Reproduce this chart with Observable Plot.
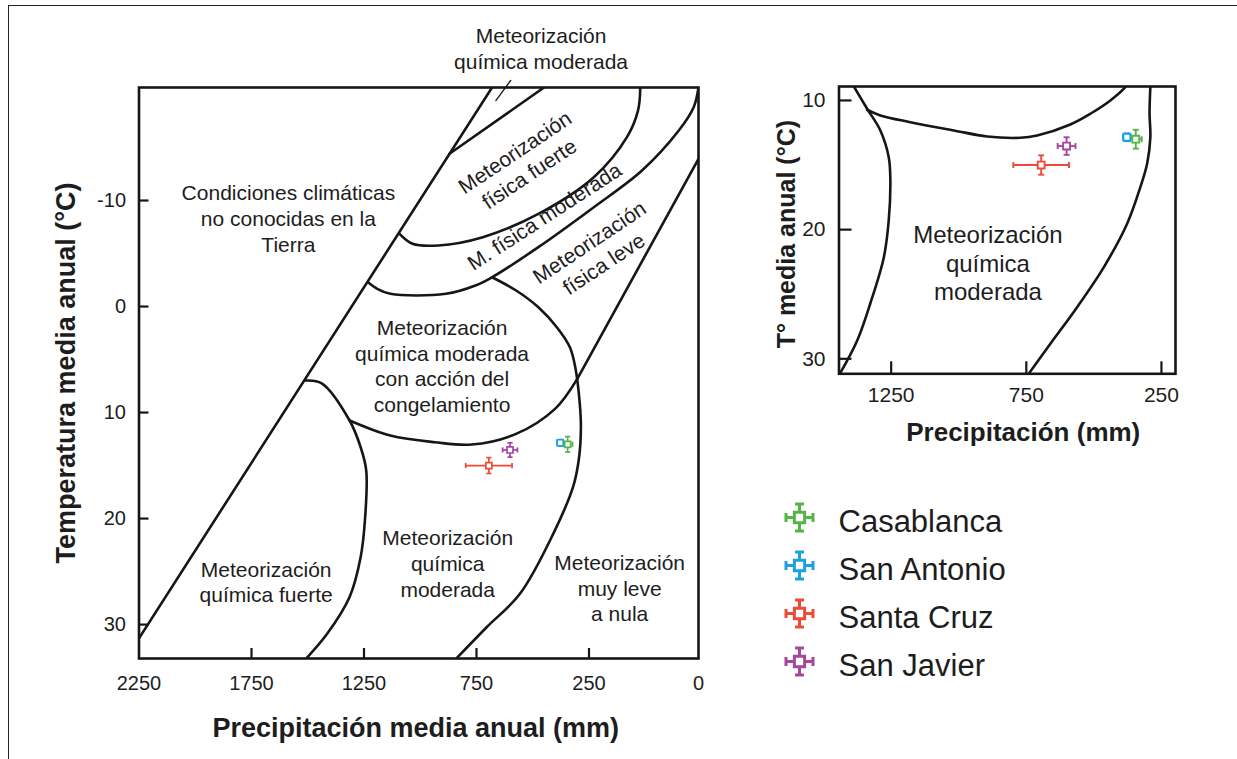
<!DOCTYPE html>
<html><head><meta charset="utf-8">
<script src="https://cdn.jsdelivr.net/npm/d3@7"></script>
<script src="https://cdn.jsdelivr.net/npm/@observablehq/plot@0.6"></script>
<style>
body{margin:0;background:#fff;width:1237px;height:759px;overflow:hidden;position:relative;font-family:"Liberation Sans",Arial,sans-serif}
#main,#inset,#legend{position:absolute}
#main{left:0;top:0}
#inset{left:730px;top:0}
#legend{left:730px;top:470px}
#border{position:absolute;left:8px;top:5px;width:1240px;height:770px;border-left:1.5px solid #222;border-top:1.5px solid #222}
svg{overflow:visible}
</style></head><body>
<div id="border"></div>
<div id="main"></div><div id="inset"></div><div id="legend"></div>
<script>
// ---- observations (precipitation mm, temperature °C) ----
const sites = ["Casablanca", "San Antonio", "Santa Cruz", "San Javier"];
const precipitation = [345, 378, 695, 601];
const precipitationError = [22, 14, 103, 33];
const temperature = [13.0, 12.85, 15.0, 13.53];
const temperatureError = [0.73, 0.3, 0.75, 0.68];
const siteColors = ["#55b448", "#1d9fe0", "#ee4a38", "#a4479d"];

// ---- tick labels ----
const xTicksMain = [2250, 1750, 1250, 750, 250, 0];
const yTicksMain = [-10, 0, 10, 20, 30];
const xTicksInset = [1250, 750, 250];
const yTicksInset = [10, 20, 30];

// ---- Peltier diagram boundaries, main chart [precipitation, temperature] ----
const limitKnownClimates = [[2250, 31.3], [681, -20.66]];
const sliverBoundary = [[870, -14.41], [450, -20.66]];
const strongPhysicalLower = [[1092,-6.86],[1034,-5.92],[919,-5.76],[722,-6.54],[475,-8.74],[239,-12.2],[163,-16.0],[138,-18.5],[133,-20.66]];
const moderatePhysicalLower = [[1232,-2.29],[1191,-1.67],[1133,-1.2],[886,-1.2],[755,-1.98],[681,-2.76],[475,-5.6],[239,-9.37],[129,-12.83],[45,-16.6],[11,-18.8],[0,-20.66]];
const slightPhysicalOuter = [[0,-13.93],[302,6.82]];
const frostLower = [[302,6.82],[401,9.65],[574,12.01],[771,13.02],[936,12.8],[1133,12.17],[1314,10.75]];
const strongChemicalBoundary = [[1512,6.98],[1438,7.24],[1314,10.75],[1265,13.27],[1240,15.47],[1246,20.2],[1265,23.65],[1314,27.4],[1413,30.85],[1504,33.14]];
const slightChemicalBoundary = [[681,-2.76],[574,-1.51],[475,0.07],[393,1.95],[335,3.84],[311,5.73],[291,9.15],[286,11.39],[294,14.22],[319,16.89],[409,21.44],[557,27.1],[705,30.25],[837,33.14]];
const pointerLine = [[664,-19.43],[598,-21.32]];

// ---- inset boundaries ----
const insetStrongChemical = [[1388,8.92],[1339,10.64],[1290,12.32],[1259,14.39],[1253,16.19],[1259,19.29],[1277,22.13],[1327,25.7],[1376,28.6],[1440,31.16]];
const insetFrostLower = [[1339,10.72],[1290,11.16],[1179,11.68],[1018,12.32],[895,12.79],[772,12.89],[710,12.71],[587,11.86],[513,11.03],[439,10.0],[389,9.09],[383,8.92]];
const insetSlightChemical = [[291,8.92],[294,11.03],[291,12.84],[303,14.9],[328,16.71],[377,19.54],[463,22.9],[562,26.0],[661,28.83],[741,31.15]];

// ---- region labels ----
const mainRegionLabels = [
  {text: "Condiciones climáticas\nno conocidas en la\nTierra", P: 1586, T: -8.37, angle: 0},
  {text: "Meteorización\nfísica fuerte", P: 550, T: -13.61, angle: -33.8},
  {text: "M. física moderada", P: 450, T: -8.58, angle: -33},
  {text: "Meteorización\nfísica leve", P: 234, T: -5.12, angle: -33.7},
  {text: "Meteorización\nquímica moderada\ncon acción del\ncongelamiento", P: 903, T: 5.54, angle: 0},
  {text: "Meteorización\nquímica fuerte", P: 1685, T: 25.92, angle: 0},
  {text: "Meteorización\nquímica\nmoderada", P: 878, T: 24.18, angle: 0},
  {text: "Meteorización\nmuy leve\na nula", P: 180, T: 26.48, angle: 0},
  {text: "Meteorización\nquímica moderada", P: 463, T: -24.39, angle: 0}
];
const insetRegionLabels = [
  {text: "Meteorización\nquímica\nmoderada", P: 892, T: 22.54}
];

// ---- helpers ----
const obs = sites.map((s, i) => ({site: s, P: precipitation[i], eP: precipitationError[i], T: temperature[i], eT: temperatureError[i]}));
const drawOrder = [obs[1], obs[0], obs[2], obs[3]];
const rad = size => Math.sqrt(size / Math.PI);
const vCap = {draw(c, size) { const r = rad(size); c.moveTo(0, -r); c.lineTo(0, r); }};
const hCap = {draw(c, size) { const r = rad(size); c.moveTo(-r, 0); c.lineTo(r, 0); }};
const legendSymbol = {draw(c, size) {
  const r = rad(size), s = r * 0.38, k = r * 0.33;
  c.moveTo(-s, -s); c.lineTo(s, -s); c.lineTo(s, s); c.lineTo(-s, s); c.closePath();
  c.moveTo(s, 0); c.lineTo(r, 0); c.moveTo(-s, 0); c.lineTo(-r, 0);
  c.moveTo(0, s); c.lineTo(0, r); c.moveTo(0, -s); c.lineTo(0, -r);
  c.moveTo(r, -k); c.lineTo(r, k); c.moveTo(-r, -k); c.lineTo(-r, k);
  c.moveTo(-k, r); c.lineTo(k, r); c.moveTo(-k, -r); c.lineTo(k, -r);
}};
const ink = "#161616";
const font = "'Liberation Sans', Arial, Helvetica, sans-serif";

function curve(arr, smooth = true) {
  return Plot.line(arr, {x: d => d[0], y: d => d[1], stroke: ink, strokeWidth: 2.6, curve: smooth ? "catmull-rom" : "linear", clip: true});
}
function siteMarks(sq, cap, sw) {
  const o = {stroke: "site", strokeWidth: sw};
  return [
    Plot.link(drawOrder, {x1: d => d.P - d.eP, x2: d => d.P + d.eP, y1: "T", y2: "T", ...o}),
    Plot.link(drawOrder, {x1: "P", x2: "P", y1: d => d.T - d.eT, y2: d => d.T + d.eT, ...o}),
    Plot.dot(drawOrder, {x: d => d.P - d.eP, y: "T", symbol: vCap, r: cap, fill: "none", ...o}),
    Plot.dot(drawOrder, {x: d => d.P + d.eP, y: "T", symbol: vCap, r: cap, fill: "none", ...o}),
    Plot.dot(drawOrder, {x: "P", y: d => d.T - d.eT, symbol: hCap, r: cap, fill: "none", ...o}),
    Plot.dot(drawOrder, {x: "P", y: d => d.T + d.eT, symbol: hCap, r: cap, fill: "none", ...o}),
    Plot.dot(drawOrder, {x: "P", y: "T", symbol: "square", r: sq, fill: "white", ...o})
  ];
}

// ---- main Peltier chart ----
const mainW = 730, mainH = 759, mL = 138.5, mR = 32, mT = 87, mB = 101;
const main = Plot.plot({
  width: mainW, height: mainH,
  marginLeft: mL, marginRight: mR, marginTop: mT, marginBottom: mB,
  x: {type: "linear", domain: [2250, 250, 0], range: [138.5, 588.5, 698], axis: null},
  y: {type: "linear", domain: [-20.66, 33.2], range: [87, 658], axis: null},
  color: {domain: sites, range: siteColors},
  style: {fontFamily: font, color: "#1d1d1d", background: "transparent"},
  marks: [
    curve(limitKnownClimates, false),
    curve(sliverBoundary, false),
    curve(strongPhysicalLower),
    curve(moderatePhysicalLower),
    curve(slightPhysicalOuter, false),
    curve(frostLower),
    curve(strongChemicalBoundary),
    curve(slightChemicalBoundary),
    Plot.line(pointerLine, {x: d => d[0], y: d => d[1], stroke: ink, strokeWidth: 1.3}),
    Plot.ruleX(xTicksMain.slice(1, -1), {x: d => d, insetTop: (mainH - mT - mB) - 10, stroke: ink, strokeWidth: 2.2}),
    Plot.ruleY(yTicksMain, {y: d => d, insetRight: (mainW - mL - mR) - 10, stroke: ink, strokeWidth: 2.2}),
    Plot.frame({stroke: ink, strokeWidth: 2.6}),
    Plot.text(xTicksMain, {x: d => d, text: d => String(d), frameAnchor: "bottom", dy: 25, lineAnchor: "middle", fontSize: 20, fill: "#1d1d1d"}),
    Plot.text(yTicksMain, {y: d => d, text: d => String(d), frameAnchor: "left", dx: -13, textAnchor: "end", lineAnchor: "middle", fontSize: 20, fill: "#1d1d1d"}),
    Plot.text(mainRegionLabels, {x: "P", y: "T", text: "text", rotate: "angle", fontSize: 21, lineHeight: 1.23, lineAnchor: "middle", textAnchor: "middle", fill: "#1d1d1d"}),
    Plot.text(["Temperatura media anual (°C)"], {text: d => d, frameAnchor: "left", dx: -73, rotate: -90, textAnchor: "middle", lineAnchor: "middle", fontSize: 27, fontWeight: "bold", fill: "#1d1d1d"}),
    Plot.text(["Precipitación media anual (mm)"], {text: d => d, frameAnchor: "bottom", dx: -3, dy: 70, textAnchor: "middle", lineAnchor: "middle", fontSize: 27, fontWeight: "bold", fill: "#1d1d1d"}),
    ...siteMarks(3.4, 2.6, 1.7)
  ]
});
document.getElementById("main").append(main);

// ---- inset chart ----
const iW = 507, iH = 470, iL = 108.5, iR = 62, iT = 86, iB = 96.7;
const inset = Plot.plot({
  width: iW, height: iH,
  marginLeft: iL, marginRight: iR, marginTop: iT, marginBottom: iB,
  x: {type: "linear", domain: [1443, 198], range: [108.5, 445], axis: null},
  y: {type: "linear", domain: [8.92, 31.16], range: [86, 373.3], axis: null},
  color: {domain: sites, range: siteColors},
  style: {fontFamily: font, color: "#1d1d1d", background: "transparent"},
  marks: [
    curve(insetStrongChemical),
    curve(insetFrostLower),
    curve(insetSlightChemical),
    Plot.ruleX(xTicksInset, {x: d => d, insetTop: (iH - iT - iB) - 12, stroke: ink, strokeWidth: 2.2}),
    Plot.ruleY(yTicksInset, {y: d => d, insetRight: (iW - iL - iR) - 13, stroke: ink, strokeWidth: 2.2}),
    Plot.frame({stroke: ink, strokeWidth: 2.6}),
    Plot.text(xTicksInset, {x: d => d, text: d => String(d), frameAnchor: "bottom", dy: 21, lineAnchor: "middle", fontSize: 21, fill: "#1d1d1d"}),
    Plot.text(yTicksInset, {y: d => d, text: d => String(d), frameAnchor: "left", dx: -13.5, textAnchor: "end", lineAnchor: "middle", fontSize: 21, fill: "#1d1d1d"}),
    Plot.text(insetRegionLabels, {x: "P", y: "T", text: "text", fontSize: 24, lineHeight: 1.2, lineAnchor: "middle", textAnchor: "middle", fill: "#1d1d1d"}),
    Plot.text(["T° media anual (°C)"], {text: d => d, frameAnchor: "left", dx: -52.5, dy: 4, rotate: -90, textAnchor: "middle", lineAnchor: "middle", fontSize: 25, fontWeight: "bold", fill: "#1d1d1d"}),
    Plot.text(["Precipitación (mm)"], {text: d => d, frameAnchor: "bottom", dx: 16, dy: 59, textAnchor: "middle", lineAnchor: "middle", fontSize: 26, fontWeight: "bold", fill: "#1d1d1d"}),
    ...siteMarks(3.9, 3, 1.9)
  ]
});
document.getElementById("inset").append(inset);

// ---- legend ----
const legend = Plot.plot({
  width: 507, height: 289, margin: 0,
  x: {type: "linear", domain: [0, 1], range: [69, 108], axis: null},
  y: {type: "point", domain: sites, range: [46.3, 191.7], padding: 0, axis: null},
  color: {domain: sites, range: siteColors},
  style: {fontFamily: font, background: "transparent"},
  marks: [
    Plot.dot(sites, {x: () => 0, y: d => d, stroke: d => d, symbol: legendSymbol, r: 13.5, fill: "white", strokeWidth: 3}),
    Plot.text(sites, {x: () => 1, y: d => d, text: d => d, textAnchor: "start", lineAnchor: "middle", dy: 5, fontSize: 31, fill: "#1d1d1d"})
  ]
});
document.getElementById("legend").append(legend);
</script>
</body></html>
